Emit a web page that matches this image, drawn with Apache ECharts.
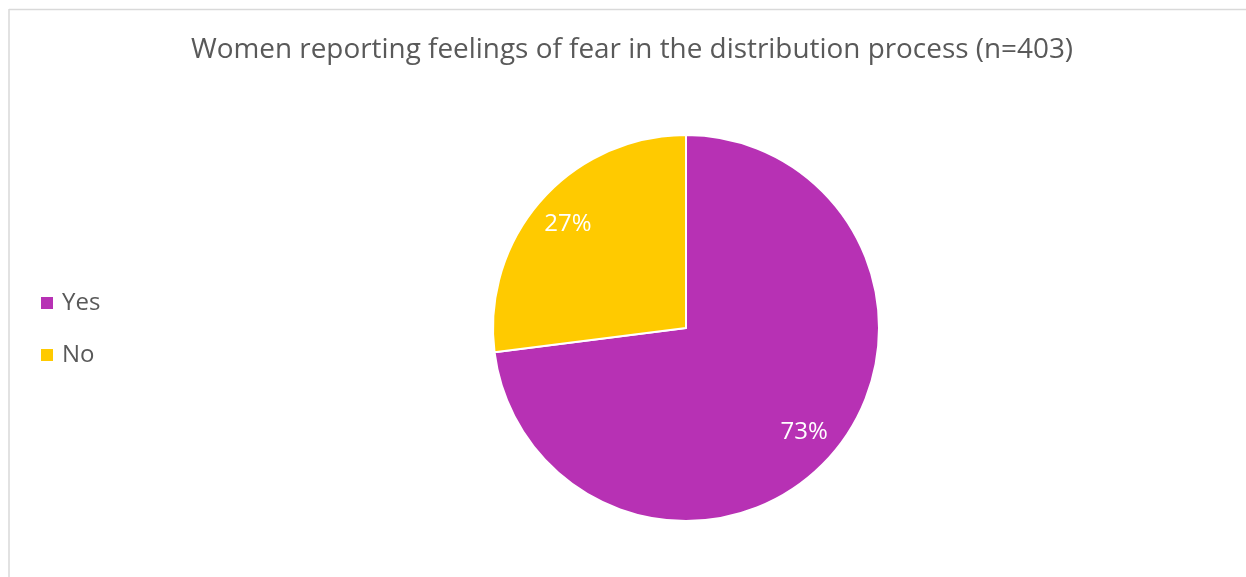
<!DOCTYPE html>
<html>
<head>
<meta charset="utf-8">
<script src="https://cdn.jsdelivr.net/npm/echarts@6/dist/echarts.min.js"></script>
<style>
  html, body { margin: 0; padding: 0; background: #ffffff; }
  #chart { width: 1246px; height: 577px; }
</style>
</head>
<body>
<div id="chart"></div>
<script>
// Survey answers
const categories = ['Yes', 'No'];
const shares = [73, 27];           // percent of respondents
const sliceColors = ['#B731B4', '#FFCA00'];
const titleText = 'Women reporting feelings of fear in the distribution process (n=403)';

const FONT = '"Open Sans", "DejaVu Sans", sans-serif';
const CENTER = [686, 328];
const R = 193;

const pieData = categories.map((name, i) => ({
  name: name,
  value: shares[i],
  itemStyle: { color: sliceColors[i] }
}));

const chart = echarts.init(document.getElementById('chart'), null, { renderer: 'canvas' });

chart.setOption({
  animation: false,
  backgroundColor: '#ffffff',
  title: {
    text: titleText,
    left: 632,
    textAlign: 'center',
    top: 36,
    padding: 0,
    textStyle: {
      fontFamily: FONT,
      fontWeight: 'normal',
      fontSize: 27.9,
      color: '#595959'
    }
  },
  legend: {
    orient: 'vertical',
    left: 41,
    top: 290,
    padding: 0,
    itemWidth: 12,
    itemHeight: 12,
    itemGap: 26,
    icon: 'rect',
    data: categories,
    itemStyle: { borderWidth: 0 },
    textStyle: {
      fontFamily: FONT,
      fontSize: 24,
      lineHeight: 26,
      color: '#595959',
      padding: [0, 0, 0, 4]
    }
  },
  graphic: [
    { type: 'line', shape: { x1: 9, y1: 9.5, x2: 1246, y2: 9.5 }, style: { stroke: '#d9d9d9', lineWidth: 1.5 }, silent: true },
    { type: 'line', shape: { x1: 9, y1: 9, x2: 9, y2: 577 }, style: { stroke: '#d9d9d9', lineWidth: 1.5 }, silent: true }
  ],
  series: [
    {
      name: 'slices',
      type: 'pie',
      center: CENTER,
      radius: [0, R],
      startAngle: 90,
      clockwise: true,
      data: pieData,
      itemStyle: { borderColor: '#ffffff', borderWidth: 2 },
      label: { show: false },
      labelLine: { show: false },
      emphasis: { disabled: true }
    },
    {
      // Transparent ring that carries the percentage labels at ~80% of the radius
      name: 'labels',
      type: 'pie',
      center: CENTER,
      radius: [Math.round(R * 0.6), R],
      startAngle: 90,
      clockwise: true,
      silent: true,
      data: categories.map((name, i) => ({ name: name, value: shares[i] })),
      itemStyle: { color: 'rgba(0,0,0,0)', borderWidth: 0 },
      label: {
        show: true,
        position: 'inside',
        formatter: '{c}%',
        fontFamily: FONT,
        fontSize: 24,
        color: '#ffffff'
      },
      labelLine: { show: false },
      emphasis: { disabled: true }
    }
  ]
});
</script>
</body>
</html>
